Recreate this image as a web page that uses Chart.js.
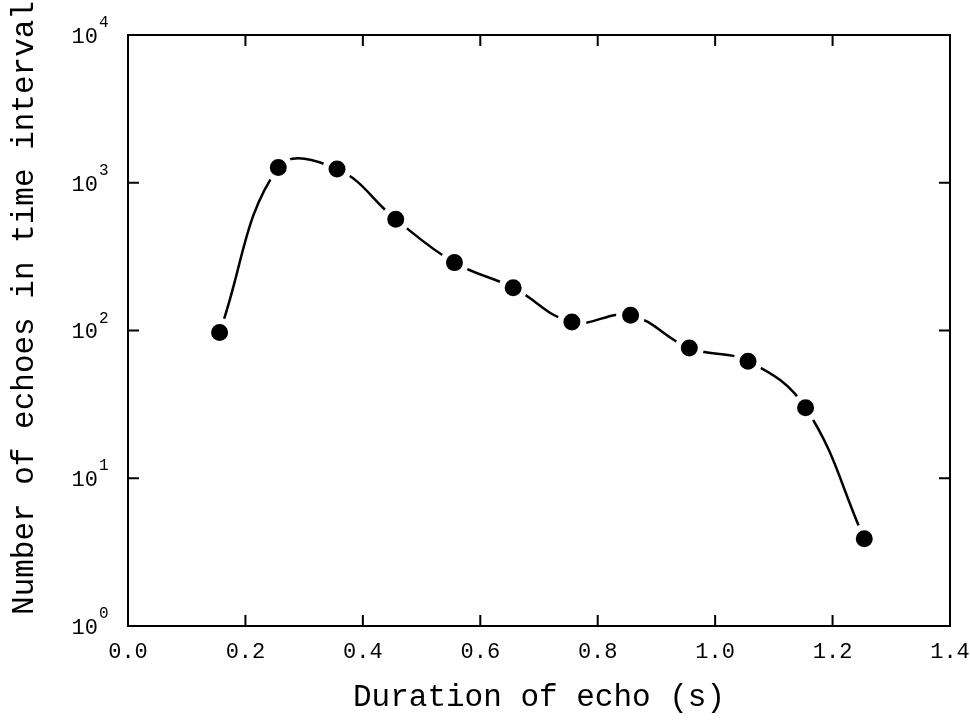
<!DOCTYPE html>
<html>
<head>
<meta charset="utf-8">
<script src="https://cdn.jsdelivr.net/npm/chart.js@4/dist/chart.umd.min.js"></script>
<style>
  html, body { margin: 0; padding: 0; background: #fff; }
  #wrap { width: 970px; height: 720px; }
</style>
</head>
<body>
<div id="wrap"><canvas id="chart" width="970" height="720"></canvas></div>
<script>
// echo duration (s) vs number of echoes
const durations = [0.156, 0.256, 0.356, 0.456, 0.556, 0.656, 0.756, 0.856, 0.956, 1.056, 1.154, 1.254];
const counts = [97, 1270, 1240, 566, 288, 195, 114, 127, 76, 62, 30, 3.9];

const xTicks = [0, 0.2, 0.4, 0.6, 0.8, 1.0, 1.2, 1.4];
const xTickLabels = ['0.0', '0.2', '0.4', '0.6', '0.8', '1.0', '1.2', '1.4'];
const yExponents = [0, 1, 2, 3, 4];
const yTitle = 'Number of echoes in time interval';

const FONT = "'Liberation Mono', 'DejaVu Sans Mono', monospace";
const TICK = 11;

// frame, inward ticks, 10^n labels and the y title
const frameTicks = {
  id: 'frameTicks',
  afterDraw(chart) {
    const { ctx, chartArea: a, scales: { x, y } } = chart;
    ctx.save();
    ctx.strokeStyle = '#000';
    ctx.lineWidth = 2;
    ctx.strokeRect(a.left, a.top, a.right - a.left, a.bottom - a.top);

    ctx.beginPath();
    xTicks.forEach(v => {
      const px = x.getPixelForValue(v);
      ctx.moveTo(px, a.bottom); ctx.lineTo(px, a.bottom - TICK);
      ctx.moveTo(px, a.top); ctx.lineTo(px, a.top + TICK);
    });
    yExponents.forEach(e => {
      const py = y.getPixelForValue(Math.pow(10, e));
      ctx.moveTo(a.left, py); ctx.lineTo(a.left + TICK, py);
      ctx.moveTo(a.right, py); ctx.lineTo(a.right - TICK, py);
    });
    ctx.stroke();

    ctx.fillStyle = '#000';
    yExponents.forEach(e => {
      const py = y.getPixelForValue(Math.pow(10, e));
      ctx.font = `22px ${FONT}`;
      ctx.textAlign = 'right';
      ctx.textBaseline = 'middle';
      ctx.fillText('10', a.left - 30, py + 2);
      ctx.font = `16px ${FONT}`;
      ctx.textAlign = 'left';
      ctx.fillText(String(e), a.left - 29, py - 12);
    });

    ctx.translate(25, 308);
    ctx.rotate(-Math.PI / 2);
    ctx.font = `31px ${FONT}`;
    ctx.textAlign = 'center';
    ctx.textBaseline = 'middle';
    ctx.fillText(yTitle, 0, 0);
    ctx.restore();
  }
};

new Chart(document.getElementById('chart'), {
  type: 'line',
  data: {
    datasets: [{
      data: durations.map((d, i) => ({ x: d, y: counts[i] })),
      borderColor: '#000',
      borderWidth: 2.5,
      tension: 0.4,
      pointRadius: 11.5,
      pointBorderWidth: 6,
      pointBorderColor: '#fff',
      pointBackgroundColor: '#000',
      fill: false
    }]
  },
  options: {
    responsive: false,
    animation: false,
    layout: { padding: { top: 35, right: 20, left: 0, bottom: 0 } },
    plugins: { legend: { display: false }, tooltip: { enabled: false } },
    scales: {
      x: {
        type: 'linear',
        min: 0,
        max: 1.4,
        afterBuildTicks: (s) => { s.ticks = xTicks.map(v => ({ value: v })); },
        afterFit: (s) => { s.height = 94; s.paddingLeft = 0; s.paddingRight = 0; },
        grid: { display: false, drawTicks: false },
        border: { display: false },
        ticks: {
          padding: 13,
          color: '#000',
          font: { family: FONT, size: 22 },
          maxRotation: 0,
          callback: (v) => xTickLabels[xTicks.findIndex(t => Math.abs(t - v) < 1e-6)]
        },
        title: {
          display: true,
          text: 'Duration of echo (s)',
          color: '#000',
          font: { family: FONT, size: 31 },
          padding: { top: 0, bottom: 4 }
        }
      },
      y: {
        type: 'logarithmic',
        min: 1,
        max: 10000,
        afterFit: (s) => { s.width = 128; },
        grid: { display: false, drawTicks: false },
        border: { display: false },
        ticks: { display: false },
        title: { display: false }
      }
    }
  },
  plugins: [frameTicks]
});
</script>
</body>
</html>
